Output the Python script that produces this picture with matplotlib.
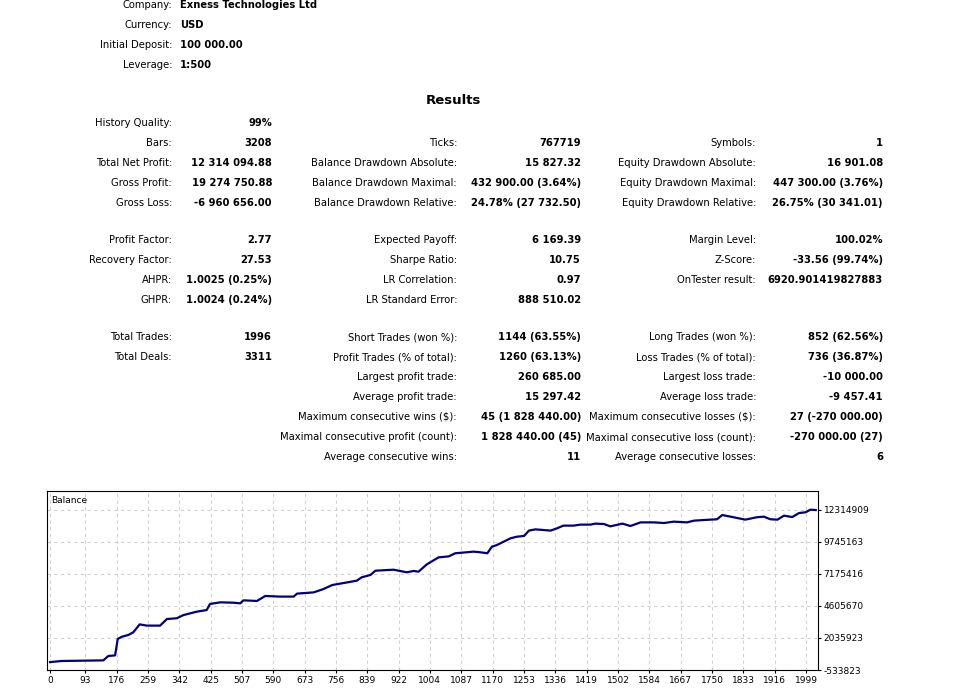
import numpy as np
import matplotlib.pyplot as plt

W, H = 968, 699

header_labels = ["Company:", "Currency:", "Initial Deposit:", "Leverage:"]
header_values = ["Exness Technologies Ltd", "USD", "100 000.00", "1:500"]

# (label, value) rows per column
col1 = [("History Quality:", "99%"), ("Bars:", "3208"), ("Total Net Profit:", "12 314 094.88"),
        ("Gross Profit:", "19 274 750.88"), ("Gross Loss:", "-6 960 656.00"),
        ("Profit Factor:", "2.77"), ("Recovery Factor:", "27.53"), ("AHPR:", "1.0025 (0.25%)"),
        ("GHPR:", "1.0024 (0.24%)"), ("Total Trades:", "1996"), ("Total Deals:", "3311")]
col1_y = [123, 143, 163, 183, 203, 240, 260, 280, 300, 337, 357]

col2 = [("Ticks:", "767719"), ("Balance Drawdown Absolute:", "15 827.32"),
        ("Balance Drawdown Maximal:", "432 900.00 (3.64%)"), ("Balance Drawdown Relative:", "24.78% (27 732.50)"),
        ("Expected Payoff:", "6 169.39"), ("Sharpe Ratio:", "10.75"), ("LR Correlation:", "0.97"),
        ("LR Standard Error:", "888 510.02"), ("Short Trades (won %):", "1144 (63.55%)"),
        ("Profit Trades (% of total):", "1260 (63.13%)"), ("Largest profit trade:", "260 685.00"),
        ("Average profit trade:", "15 297.42"), ("Maximum consecutive wins ($):", "45 (1 828 440.00)"),
        ("Maximal consecutive profit (count):", "1 828 440.00 (45)"), ("Average consecutive wins:", "11")]
col2_y = [143, 163, 183, 203, 240, 260, 280, 300, 337, 357, 377, 397, 417, 437, 457]

col3 = [("Symbols:", "1"), ("Equity Drawdown Absolute:", "16 901.08"),
        ("Equity Drawdown Maximal:", "447 300.00 (3.76%)"), ("Equity Drawdown Relative:", "26.75% (30 341.01)"),
        ("Margin Level:", "100.02%"), ("Z-Score:", "-33.56 (99.74%)"), ("OnTester result:", "6920.901419827883"),
        ("Long Trades (won %):", "852 (62.56%)"), ("Loss Trades (% of total):", "736 (36.87%)"),
        ("Largest loss trade:", "-10 000.00"), ("Average loss trade:", "-9 457.41"),
        ("Maximum consecutive losses ($):", "27 (-270 000.00)"), ("Maximal consecutive loss (count):", "-270 000.00 (27)"),
        ("Average consecutive losses:", "6")]
col3_y = [143, 163, 183, 203, 240, 260, 280, 337, 357, 377, 397, 417, 437, 457]

# balance curve (axis position, balance in millions)
trades = [0, 31, 141, 154, 172, 179, 190, 207, 220, 237, 256, 291, 309, 335, 353, 388, 414, 423,
          450, 485, 503, 511, 547, 569, 608, 644, 653, 697, 723, 746, 776, 811, 824, 847, 860, 908,
          943, 961, 974, 996, 1027, 1054, 1071, 1120, 1137, 1156, 1168, 1181, 1217, 1234, 1253,
          1266, 1283, 1323, 1340, 1357, 1384, 1402, 1429, 1441, 1464, 1481, 1513, 1534, 1561, 1596,
          1623, 1649, 1684, 1702, 1729, 1763, 1777, 1807, 1838, 1868, 1887, 1904, 1923, 1940, 1962,
          1980, 1997, 2010, 2024]
balance = [0.10, 0.19, 0.24, 0.59, 0.64, 1.96, 2.14, 2.28, 2.49, 3.13, 3.03, 3.03, 3.56, 3.62,
           3.88, 4.15, 4.28, 4.77, 4.90, 4.87, 4.82, 5.06, 5.01, 5.41, 5.36, 5.36, 5.60, 5.70, 5.97,
           6.29, 6.45, 6.64, 6.91, 7.10, 7.44, 7.52, 7.31, 7.42, 7.36, 7.95, 8.51, 8.59, 8.84, 8.97,
           8.92, 8.84, 9.37, 9.50, 10.04, 10.17, 10.23, 10.66, 10.76, 10.66, 10.84, 11.06, 11.06,
           11.14, 11.14, 11.22, 11.19, 11.00, 11.22, 11.03, 11.32, 11.32, 11.27, 11.38, 11.32, 11.46,
           11.51, 11.57, 11.91, 11.73, 11.54, 11.73, 11.78, 11.57, 11.54, 11.86, 11.75, 12.07, 12.13,
           12.34, 12.31]

y_ticks = [-533823, 2035923, 4605670, 7175416, 9745163, 12314909]
x_ticks = [0, 93, 176, 259, 342, 425, 507, 590, 673, 756, 839, 922, 1004, 1087, 1170, 1253,
           1336, 1419, 1502, 1584, 1667, 1750, 1833, 1916, 1999]

plt.rcParams['font.family'] = ['DejaVu Sans']
fig = plt.figure(figsize=(W / 100, H / 100), dpi=100)
FS = 7.2


def put(x, y, s, ha="right", bold=False, size=FS):
    fig.text(x / W, 1 - y / H, s, ha=ha, va="center", fontsize=size,
             fontweight="bold" if bold else "normal", color="black")


for i, (lab, val) in enumerate(zip(header_labels, header_values)):
    y = 5 + 20 * i
    put(172, y, lab)
    put(180, y, val, ha="left", bold=True)

put(453, 101, "Results", ha="center", bold=True, size=9.5)

for rows, ys, lx, vx in [(col1, col1_y, 172, 272), (col2, col2_y, 457, 581), (col3, col3_y, 756, 883)]:
    for (lab, val), y in zip(rows, ys):
        put(lx, y, lab)
        put(vx, y, val, bold=True)

# balance chart
ax = fig.add_axes([47 / W, (H - 670) / H, 771 / W, 179 / H])
ax.plot(trades, np.array(balance) * 1e6, color="#000080", linewidth=1.6)
ax.set_xlim(-8, 2030)
ax.set_ylim(-533823, 13840000)
ax.set_xticks(x_ticks)
ax.set_xticklabels([str(t) for t in x_ticks], fontsize=6.5)
ax.set_yticks(y_ticks)
ax.set_yticklabels([str(t) for t in y_ticks], fontsize=6.5)
ax.yaxis.tick_right()
ax.tick_params(length=2, pad=2)
ax.grid(True, linestyle=(0, (3, 3)), color="#d0d0d0", linewidth=0.8)
for s in ax.spines.values():
    s.set_linewidth(0.8)
ax.text(0.005, 0.97, "Balance", transform=ax.transAxes, fontsize=6.5, va="top", ha="left")

fig.savefig("out.png", dpi=100)
